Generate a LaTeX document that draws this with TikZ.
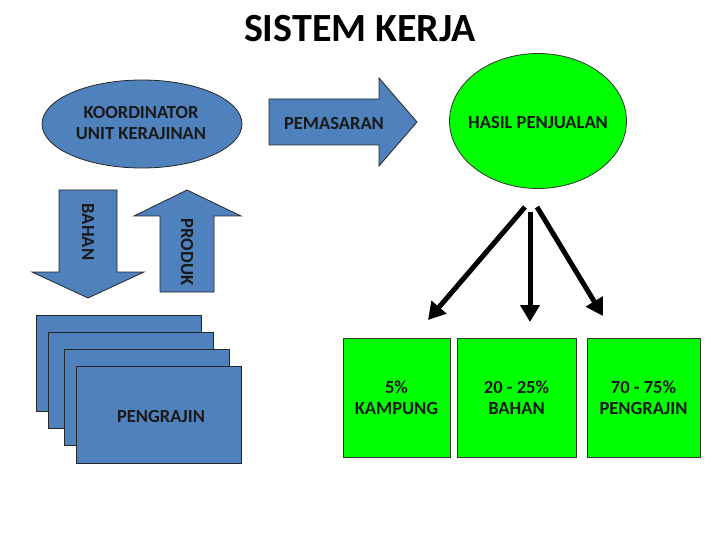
\documentclass[tikz,border=0pt]{standalone}
\usepackage{fontspec}
\setmainfont{Carlito}
\usetikzlibrary{arrows.meta,shapes.geometric}
\definecolor{biru}{HTML}{4F81BD}
\definecolor{hijau}{HTML}{00FF00}

\begin{document}
\begin{tikzpicture}[x=1pt,y=-1pt,line width=0.8pt,>=Stealth]
\tikzset{
  bluefill/.style={fill=biru,draw=black!85,line width=0.8pt},
  greenfill/.style={fill=hijau,draw=black!80,line width=0.8pt},
  lbl/.style={font=\bfseries\fontsize{18.5}{20.5}\selectfont,text=black!90,align=center,inner sep=0pt},
  flow/.style={line width=5pt,-{Triangle[length=17pt,width=19pt]}},
  tumpuk/.style={bluefill,rectangle,minimum width=165pt,minimum height=96pt,inner sep=0pt}
}
\useasboundingbox (0,0) rectangle (720,540);
% ---------- title ----------
\node[font=\bfseries\fontsize{40}{44}\selectfont] (judul) at (360,29) {SISTEM KERJA};
% ---------- koordinator and block arrows ----------
\node[ellipse,bluefill,minimum width=200pt,minimum height=88pt,inner sep=0pt] (koordinator) at (142,124) {};
\node[lbl] (koordinatorlbl) at (141,123) {KOORDINATOR\\UNIT KERAJINAN};
\draw[bluefill] (269,99) -- (379,99) -- (379,78) -- (417,122) -- (379,166) -- (379,145) -- (269,145) -- cycle;
\node[lbl] (pemasaran) at (334,123) {PEMASARAN};
\draw[bluefill] (59,190) -- (117,190) -- (117,272) -- (144,272) -- (88,298) -- (32,272) -- (59,272) -- cycle;
\node[lbl,rotate=-90] (bahan) at (88,232) {BAHAN};
\draw[bluefill] (160,292) -- (214,292) -- (214,216) -- (241,216) -- (187,190) -- (134,216) -- (160,216) -- cycle;
\node[lbl,rotate=-90] (produk) at (187,252) {PRODUK};
% ---------- stack of pengrajin ----------
\node[tumpuk] (pengrajinA) at (119,363) {};
\node[tumpuk] (pengrajinB) at (130.5,380) {};
\node[tumpuk] (pengrajinC) at (147,397.5) {};
\node[tumpuk,minimum height=97pt] (pengrajinD) at (158.5,414.5) {};
\node[lbl] (pengrajinlbl) at (161,416) {PENGRAJIN};
% ---------- hasil penjualan ----------
\node[ellipse,greenfill,minimum width=177pt,minimum height=135pt,inner sep=0pt] (hasil) at (538,121) {};
\node[lbl] (hasillbl) at (538,123) {HASIL PENJUALAN};
\node[greenfill,lbl,minimum width=107pt,minimum height=119pt] (kampung) at (396.5,397.5) {5\%\\KAMPUNG};
\node[greenfill,lbl,minimum width=119pt,minimum height=119pt] (bahanbox) at (516.5,397.5) {20 - 25\%\\BAHAN};
\node[greenfill,lbl,minimum width=113pt,minimum height=119pt] (pengrajinbox) at (643.5,397.5) {70 - 75\%\\PENGRAJIN};
% ---------- distribution arrows ----------
\coordinate (s1) at (525,207); \coordinate (e1) at (428,320);
\coordinate (s2) at (530,212); \coordinate (e2) at (530,322);
\coordinate (s3) at (537,207); \coordinate (e3) at (603,316);
\draw[flow] (s1) -- (e1);
\draw[flow] (s2) -- (e2);
\draw[flow] (s3) -- (e3);
\end{tikzpicture}
\end{document}
